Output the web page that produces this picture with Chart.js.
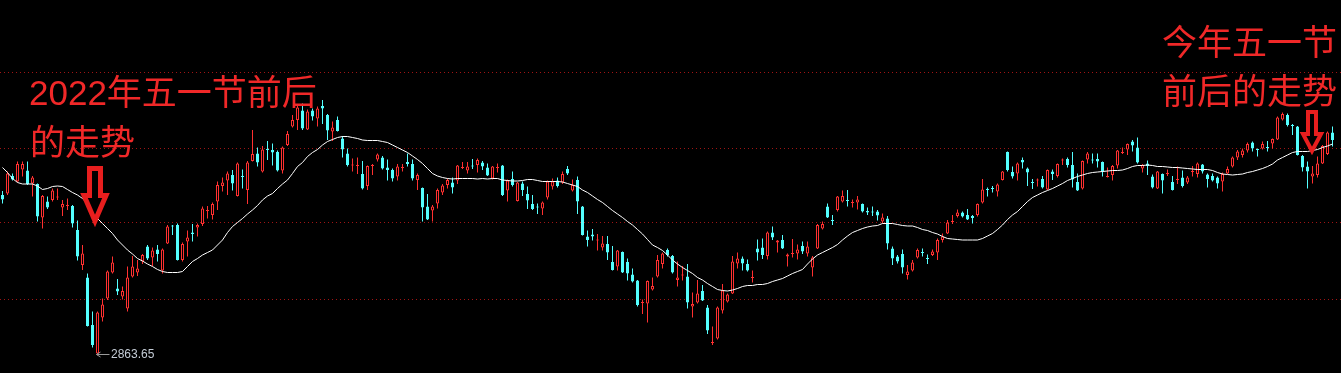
<!DOCTYPE html>
<html>
<head>
<meta charset="utf-8">
<script src="https://cdn.jsdelivr.net/npm/chart.js@4.4.0/dist/chart.umd.min.js"></script>
<style>
  html, body { margin: 0; padding: 0; background: #000; }
  #wrap { position: relative; width: 1341px; height: 373px; }
</style>
</head>
<body>
<div id="wrap"><canvas id="kline"></canvas></div>
<script>
// daily candles, oldest first
const opens = [3184,3187,3222,3211,3235,3233,3207,3206,3139,3171,3174,3179,3159,3162,3162,3114,3044,3019,2924,2867,
  2939,2977,3029,2997,2981,2957,3021,3029,3051,3081,3059,3075,3033,3087,3123,3124,3054,3091,3109,3119,
  3126,3152,3144,3171,3202,3213,3224,3182,3222,3194,3252,3267,3231,3276,3274,3270,3233,3284,3321,3334,
  3353,3315,3353,3337,3362,3344,3311,3334,3297,3267,3243,3242,3226,3202,3242,3255,3259,3239,3234,3221,
  3238,3250,3246,3214,3198,3161,3153,3167,3189,3204,3209,3213,3238,3233,3243,3244,3249,3239,3217,3238,
  3243,3193,3216,3172,3207,3186,3166,3161,3157,3179,3201,3213,3209,3236,3193,3214,3161,3101,3105,3093,
  3079,3086,3050,3041,3070,3050,3025,3013,2968,2967,2995,3021,3046,3074,3062,3014,3023,3021,2961,2969,
  2992,2959,2888,2897,2953,2971,2987,3047,3057,3046,3018,3077,3079,3062,3109,3089,3094,3061,3066,3067,
  3082,3067,3039,3077,3117,3161,3134,3154,3171,3174,3168,3169,3166,3152,3151,3151,3131,3137,3077,3061,
  3066,3024,3033,3059,3070,3058,3064,3069,3094,3107,3130,3142,3149,3144,3142,3144,3169,3196,3198,3191,
  3214,3270,3230,3227,3254,3237,3210,3213,3216,3195,3231,3222,3253,3256,3244,3210,3197,3255,3255,3256,
  3250,3220,3224,3243,3268,3275,3291,3279,3237,3247,3221,3197,3226,3226,3210,3214,3219,3209,3230,3226,
  3245,3225,3222,3219,3211,3227,3241,3259,3264,3273,3289,3276,3277,3280,3287,3295,3335,3344,3324,3321,
  3262,3241,3221,3224,3247,3266,3309];
const highs = [3192,3231,3227,3251,3251,3251,3222,3207,3184,3181,3197,3197,3174,3177,3164,3133,3084,3027,2951,2951,
  2977,3033,3061,3016,3001,3041,3062,3054,3066,3084,3079,3084,3077,3124,3124,3127,3089,3113,3126,3127,
  3161,3162,3169,3211,3219,3231,3234,3249,3235,3252,3314,3279,3282,3292,3287,3273,3281,3312,3344,3364,
  3367,3355,3357,3361,3374,3346,3331,3341,3302,3277,3257,3259,3252,3243,3246,3267,3262,3255,3237,3246,
  3246,3267,3255,3227,3199,3186,3164,3197,3206,3217,3219,3244,3250,3250,3256,3257,3252,3247,3242,3247,
  3244,3215,3231,3210,3211,3201,3184,3167,3171,3213,3217,3219,3231,3242,3215,3221,3162,3113,3116,3106,
  3102,3102,3082,3074,3071,3057,3037,3014,2975,3013,3019,3064,3069,3077,3064,3051,3042,3046,2989,3014,
  3004,2964,2921,2961,3006,2987,3062,3069,3061,3055,3033,3095,3097,3111,3121,3094,3104,3067,3096,3085,
  3091,3091,3062,3126,3131,3167,3144,3182,3193,3194,3175,3182,3167,3159,3161,3154,3147,3142,3081,3064,
  3075,3044,3054,3077,3077,3065,3075,3097,3107,3134,3144,3155,3151,3156,3144,3167,3216,3199,3202,3207,
  3232,3271,3241,3249,3259,3239,3216,3217,3222,3235,3235,3247,3257,3259,3270,3227,3253,3270,3267,3267,
  3251,3239,3244,3274,3279,3287,3294,3299,3246,3253,3225,3232,3227,3235,3222,3241,3233,3222,3242,3249,
  3246,3227,3227,3221,3229,3241,3261,3274,3277,3289,3291,3277,3291,3292,3297,3341,3349,3347,3326,3322,
  3264,3251,3242,3261,3284,3311,3321];
const lows = [3167,3184,3213,3209,3221,3204,3181,3131,3117,3156,3171,3174,3142,3154,3119,3053,3034,2921,2879,2863.65,
  2931,2974,3027,2984,2975,2951,3019,3022,3046,3054,3042,3051,3027,3086,3104,3053,3051,3061,3091,3101,
  3122,3137,3135,3154,3191,3184,3193,3181,3197,3166,3251,3241,3229,3254,3243,3231,3227,3282,3319,3314,
  3314,3314,3333,3321,3326,3294,3292,3311,3259,3241,3231,3226,3195,3194,3224,3251,3235,3213,3211,3213,
  3231,3241,3213,3194,3131,3134,3131,3157,3184,3197,3187,3206,3236,3227,3236,3229,3234,3222,3215,3229,
  3182,3171,3201,3171,3182,3156,3154,3146,3144,3175,3195,3199,3206,3224,3191,3146,3103,3081,3093,3073,
  3073,3054,3033,3033,3028,3013,3009,2961,2946,2929,2993,3019,3037,3061,3027,3001,3013,2957,2939,2967,
  2972,2906,2884,2895,2947,2969,2986,3037,3033,3031,3009,3053,3056,3055,3094,3069,3076,3041,3059,3055,
  3066,3061,3021,3076,3115,3138,3124,3151,3169,3161,3159,3155,3149,3144,3142,3133,3127,3075,3044,3047,
  3027,3015,3031,3057,3061,3046,3062,3054,3089,3106,3126,3139,3139,3134,3127,3141,3167,3181,3189,3181,
  3213,3231,3217,3213,3237,3202,3196,3201,3197,3194,3214,3219,3244,3239,3199,3192,3195,3247,3247,3239,
  3221,3219,3213,3237,3266,3264,3271,3247,3229,3224,3197,3196,3187,3222,3193,3206,3199,3206,3221,3219,
  3227,3199,3211,3197,3191,3226,3239,3254,3259,3269,3271,3261,3275,3271,3277,3294,3333,3321,3304,3263,
  3231,3197,3207,3219,3246,3264,3281];
const closes = [3175,3227,3215,3246,3246,3206,3219,3141,3182,3159,3193,3181,3166,3164,3127,3061,3067,2922,2884,2949,
  2965,3031,3049,2991,2992,3019,3041,3037,3064,3057,3073,3066,3075,3121,3121,3054,3086,3099,3106,3124,
  3157,3154,3166,3204,3209,3227,3207,3247,3220,3249,3266,3249,3275,3274,3269,3233,3279,3306,3334,3359,
  3317,3351,3341,3357,3357,3313,3319,3312,3275,3244,3245,3244,3197,3242,3244,3265,3237,3234,3217,3241,
  3240,3246,3217,3224,3159,3135,3161,3194,3203,3214,3199,3243,3240,3241,3241,3254,3241,3223,3241,3240,
  3184,3213,3204,3209,3194,3173,3156,3159,3169,3211,3211,3202,3226,3227,3204,3171,3104,3094,3101,3095,
  3087,3069,3034,3073,3029,3027,3011,2964,2970,3012,3002,3054,3067,3064,3029,3019,3025,2969,2966,2987,
  2973,2913,2890,2959,2993,2985,3051,3057,3047,3033,3020,3069,3064,3109,3099,3093,3077,3065,3068,3075,
  3071,3081,3059,3124,3126,3139,3132,3181,3182,3172,3170,3175,3151,3149,3149,3143,3139,3087,3057,3051,
  3039,3031,3049,3074,3068,3056,3071,3094,3101,3129,3132,3149,3141,3135,3138,3166,3195,3194,3196,3205,
  3231,3234,3221,3247,3249,3229,3208,3215,3199,3234,3226,3246,3255,3244,3215,3193,3252,3267,3253,3251,
  3231,3222,3242,3273,3270,3286,3283,3249,3244,3242,3199,3231,3213,3228,3194,3216,3202,3219,3232,3247,
  3231,3216,3213,3207,3226,3236,3259,3271,3273,3286,3277,3274,3286,3278,3296,3339,3346,3324,3322,3264,
  3239,3231,3227,3247,3282,3309,3294];
// moving average line as drawn by the terminal
const maLine = [3239,3229,3217,3209,3206,3206,3206,3202,3195,3197,3201,3202,3201,3195,3189,3184,3177,3166,3154,3137,
  3127,3117,3107,3094,3084,3074,3066,3057,3052,3046,3041,3035,3031,3029,3029,3029,3031,3041,3051,3057,
  3064,3069,3074,3084,3094,3109,3121,3129,3137,3146,3154,3163,3174,3182,3187,3197,3206,3214,3227,3241,
  3249,3261,3269,3275,3284,3291,3295,3299,3301,3301,3299,3297,3294,3293,3293,3293,3291,3289,3284,3279,
  3274,3269,3262,3255,3247,3237,3227,3222,3219,3217,3216,3217,3217,3217,3217,3216,3217,3216,3217,3217,
  3214,3213,3212,3212,3213,3215,3215,3213,3211,3211,3211,3211,3210,3207,3204,3201,3194,3189,3182,3175,
  3169,3161,3153,3146,3139,3131,3124,3115,3106,3095,3084,3079,3073,3064,3054,3046,3039,3033,3027,3019,
  3014,3007,3001,2995,2993,2992,2994,2997,3001,3003,3003,3005,3005,3007,3011,3014,3017,3022,3027,3031,
  3035,3046,3056,3064,3069,3074,3079,3085,3094,3102,3109,3113,3117,3120,3122,3123,3127,3127,3127,3125,
  3123,3122,3122,3119,3115,3113,3109,3106,3101,3097,3096,3095,3094,3094,3094,3094,3097,3102,3107,3115,
  3124,3135,3144,3151,3161,3171,3179,3184,3189,3193,3197,3202,3207,3213,3217,3221,3224,3227,3229,3230,
  3231,3232,3233,3233,3234,3237,3241,3243,3243,3244,3243,3241,3241,3240,3239,3239,3238,3237,3236,3235,
  3235,3235,3233,3229,3226,3225,3224,3225,3226,3229,3231,3234,3237,3241,3246,3254,3259,3264,3269,3271,
  3271,3271,3273,3275,3279,3282,3286];

const gridLevels = [2976, 3128, 3278, 3430];
const leftNote = ['2022年五一节前后', '的走势'];
const rightNote = ['今年五一节', '前后的走势'];

const UP = '#ff3030';
const DOWN = '#54ffff';
const NOTE_RED = '#f02828';

const idx = closes.map((c, i) => i);
const isUp = idx.map(i => closes[i] >= opens[i]);

// hollow down arrow, black inside, red outline
function drawArrow(ctx, a) {
  const { cx, top, base, tip, shaftHalf, headHalf, width } = a;
  ctx.beginPath();
  ctx.moveTo(cx - shaftHalf, top);
  ctx.lineTo(cx + shaftHalf, top);
  ctx.lineTo(cx + shaftHalf, base);
  ctx.lineTo(cx + headHalf, base);
  ctx.lineTo(cx, tip);
  ctx.lineTo(cx - headHalf, base);
  ctx.lineTo(cx - shaftHalf, base);
  ctx.closePath();
  ctx.fillStyle = '#000';
  ctx.fill();
  ctx.lineWidth = width;
  ctx.lineJoin = 'miter';
  ctx.miterLimit = 10;
  ctx.strokeStyle = '#e81e1e';
  ctx.stroke();
}

const notesPlugin = {
  id: 'notes',
  afterDraw(chart) {
    const { ctx, scales: { x, y } } = chart;
    ctx.save();

    // lowest low marker
    const low = Math.min(...lows);
    const mi = lows.indexOf(low);
    const px = x.getPixelForValue(mi) - 1;
    const py = Math.round(y.getPixelForValue(low)) - 0.5;
    ctx.strokeStyle = '#9a9a9a';
    ctx.lineWidth = 1;
    ctx.beginPath();
    ctx.moveTo(px, py);
    ctx.lineTo(px + 13, py);
    ctx.moveTo(px + 4, py - 2.5);
    ctx.lineTo(px, py);
    ctx.lineTo(px + 4, py + 2.5);
    ctx.stroke();
    ctx.fillStyle = '#c4ccd6';
    ctx.font = '12px "Liberation Sans", Arial, sans-serif';
    ctx.textBaseline = 'middle';
    ctx.fillText(low.toFixed(2), px + 14.5, py + 0.5);

    // arrows
    drawArrow(ctx, { cx: x.getPixelForValue(18.5), top: 168.5, base: 195.5, tip: 221, shaftHalf: 5.5, headHalf: 11, width: 5 });
    drawArrow(ctx, { cx: x.getPixelForValue(261.9), top: 112, base: 134, tip: 151, shaftHalf: 4, headHalf: 9, width: 4 });

    // notes
    ctx.fillStyle = NOTE_RED;
    ctx.font = '35px "Liberation Sans", "Noto Sans CJK SC", sans-serif';
    ctx.textBaseline = 'alphabetic';
    ctx.fillText(leftNote[0], 29, 105);
    ctx.fillText(leftNote[1], 30, 155);
    ctx.fillText(rightNote[0], 1162, 55);
    ctx.fillText(rightNote[1], 1162, 104);
    ctx.restore();
  }
};

new Chart(document.getElementById('kline'), {
  type: 'bar',
  data: {
    datasets: [
      {
        type: 'line',
        data: idx.map(i => ({ x: i, y: maLine[i] })),
        borderColor: '#ffffff',
        borderWidth: 1,
        pointRadius: 0,
        tension: 0,
        order: 0
      },
      {
        data: idx.map(i => ({ x: i, y: [opens[i], closes[i]] })),
        backgroundColor: idx.map(i => isUp[i] ? '#000000' : DOWN),
        borderColor: idx.map(i => isUp[i] ? UP : DOWN),
        borderWidth: 1,
        borderSkipped: false,
        barThickness: 3,
        grouped: false,
        inflateAmount: 0,
        order: 1
      },
      {
        data: idx.map(i => ({ x: i, y: [lows[i], highs[i]] })),
        backgroundColor: idx.map(i => isUp[i] ? UP : DOWN),
        borderWidth: 0,
        barThickness: 1,
        grouped: false,
        inflateAmount: 0,
        order: 2
      }
    ]
  },
  options: {
    responsive: true,
    maintainAspectRatio: false,
    animation: false,
    events: [],
    layout: { padding: 0 },
    plugins: {
      legend: { display: false },
      tooltip: { enabled: false }
    },
    scales: {
      x: {
        type: 'linear',
        min: -0.5,
        max: 267.7,
        offset: false,
        display: false
      },
      y: {
        min: 2828,
        max: 3574,
        afterBuildTicks: (scale) => {
          scale.ticks = gridLevels.map(v => ({ value: v }));
        },
        ticks: { display: false },
        grid: { color: '#a01414', lineWidth: 1, drawTicks: false },
        border: { display: false, dash: [1, 3] }
      }
    }
  },
  plugins: [notesPlugin]
});
</script>
</body>
</html>
